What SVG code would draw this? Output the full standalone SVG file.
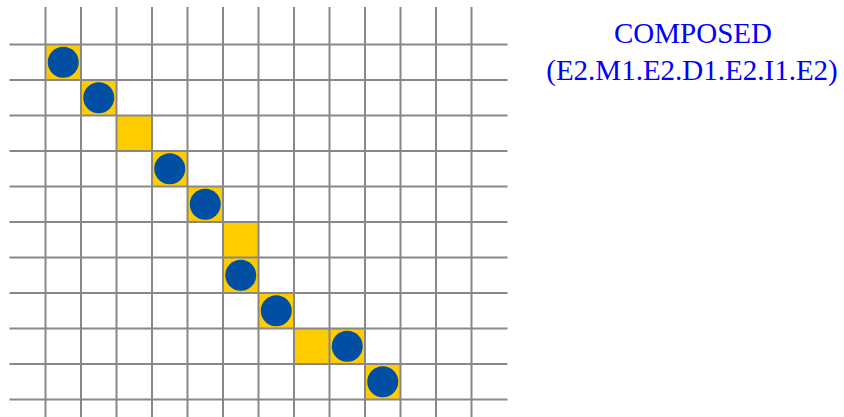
<svg xmlns="http://www.w3.org/2000/svg" width="844" height="417" viewBox="0 0 844 417">
<style>
.cell{fill:#FFCC00}
.dot{fill:#004FA3}
.grid line{stroke:#888888;stroke-width:2}
.lbl{font-family:"Liberation Serif","Times New Roman",serif;font-size:29px;fill:#0000FF;text-anchor:middle}
</style>
<rect width="844" height="417" fill="#ffffff"/>
<g id="cells">
<rect class="cell" x="45.5" y="44.5" width="35.5" height="35.5"/>
<rect class="cell" x="81" y="80" width="35.5" height="35.5"/>
<rect class="cell" x="116.5" y="115.5" width="35.5" height="35.5"/>
<rect class="cell" x="152" y="151" width="35.5" height="35.5"/>
<rect class="cell" x="187.5" y="186.5" width="35.5" height="35.5"/>
<rect class="cell" x="223" y="222" width="35.5" height="35.5"/>
<rect class="cell" x="223" y="257.5" width="35.5" height="35.5"/>
<rect class="cell" x="258.5" y="293" width="35.5" height="35.5"/>
<rect class="cell" x="294" y="328.5" width="35.5" height="35.5"/>
<rect class="cell" x="329.5" y="328.5" width="35.5" height="35.5"/>
<rect class="cell" x="365" y="364" width="35.5" height="35.5"/>
</g>
<g class="grid" id="grid">
<line x1="45.5" y1="7" x2="45.5" y2="417"/>
<line x1="81" y1="7" x2="81" y2="417"/>
<line x1="116.5" y1="7" x2="116.5" y2="417"/>
<line x1="152" y1="7" x2="152" y2="417"/>
<line x1="187.5" y1="7" x2="187.5" y2="417"/>
<line x1="223" y1="7" x2="223" y2="417"/>
<line x1="258.5" y1="7" x2="258.5" y2="417"/>
<line x1="294" y1="7" x2="294" y2="417"/>
<line x1="329.5" y1="7" x2="329.5" y2="417"/>
<line x1="365" y1="7" x2="365" y2="417"/>
<line x1="400.5" y1="7" x2="400.5" y2="417"/>
<line x1="436" y1="7" x2="436" y2="417"/>
<line x1="471.5" y1="7" x2="471.5" y2="417"/>
<line x1="9.5" y1="44.5" x2="507.5" y2="44.5"/>
<line x1="9.5" y1="80" x2="507.5" y2="80"/>
<line x1="9.5" y1="115.5" x2="507.5" y2="115.5"/>
<line x1="9.5" y1="151" x2="507.5" y2="151"/>
<line x1="9.5" y1="186.5" x2="507.5" y2="186.5"/>
<line x1="9.5" y1="222" x2="507.5" y2="222"/>
<line x1="9.5" y1="257.5" x2="507.5" y2="257.5"/>
<line x1="9.5" y1="293" x2="507.5" y2="293"/>
<line x1="9.5" y1="328.5" x2="507.5" y2="328.5"/>
<line x1="9.5" y1="364" x2="507.5" y2="364"/>
<line x1="9.5" y1="399.5" x2="507.5" y2="399.5"/>
</g>
<g id="dots">
<circle class="dot" cx="63.25" cy="62.25" r="15.5"/>
<circle class="dot" cx="98.75" cy="97.75" r="15.5"/>
<circle class="dot" cx="169.75" cy="168.75" r="15.5"/>
<circle class="dot" cx="205.25" cy="204.25" r="15.5"/>
<circle class="dot" cx="240.75" cy="275.25" r="15.5"/>
<circle class="dot" cx="276.25" cy="310.75" r="15.5"/>
<circle class="dot" cx="347.25" cy="346.25" r="15.5"/>
<circle class="dot" cx="382.75" cy="381.75" r="15.5"/>
</g>
<g id="title">
<text class="lbl" x="693" y="42.5">COMPOSED</text>
<text class="lbl" x="692" y="79.5">(E2.M1.E2.D1.E2.I1.E2)</text>
</g>
</svg>
